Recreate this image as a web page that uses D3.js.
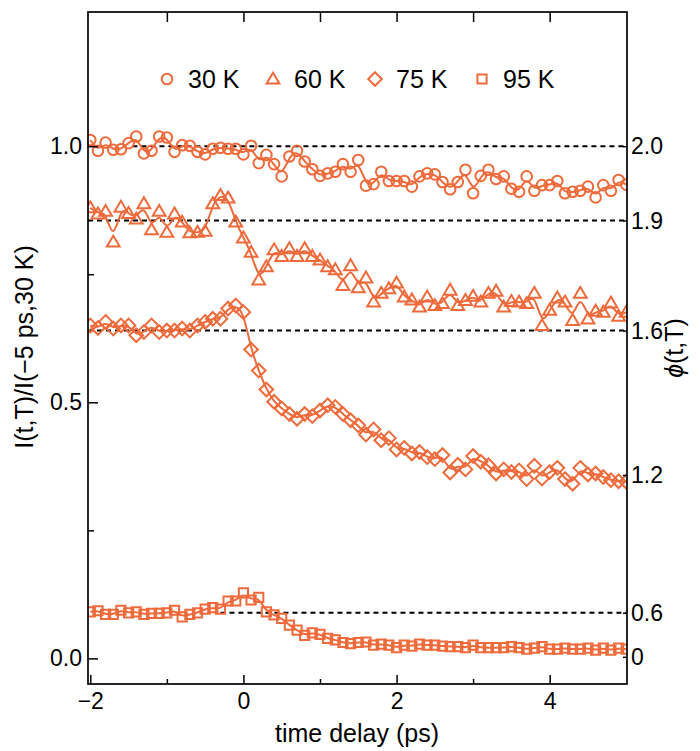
<!DOCTYPE html>
<html>
<head>
<meta charset="utf-8">
<script src="https://cdn.jsdelivr.net/npm/d3@7"></script>
<style>
  body { margin: 0; background: #fff; }
  svg { display: block; }
  text { font-family: "Liberation Sans", Arial, Helvetica, sans-serif; }
</style>
</head>
<body>
<div id="chart"></div>
<script>
'use strict';

// time delay (ps)
var times = [-2.0,-1.9,-1.8,-1.7,-1.6,-1.5,-1.4,-1.3,-1.2,-1.1,-1.0,-0.9,-0.8,-0.7,-0.6,-0.5,-0.4,-0.3,-0.2,-0.1,
  0.0,0.1,0.2,0.3,0.4,0.5,0.6,0.7,0.8,0.9,1.0,1.1,1.2,1.3,1.4,1.5,1.6,1.7,1.8,1.9,
  2.0,2.1,2.2,2.3,2.4,2.5,2.6,2.7,2.8,2.9,3.0,3.1,3.2,3.3,3.4,3.5,3.6,3.7,3.8,3.9,
  4.0,4.1,4.2,4.3,4.4,4.5,4.6,4.7,4.8,4.9,5.0];

var series30K = [1.012,0.991,1.007,0.993,0.994,1.006,1.019,0.986,0.991,1.019,
  1.017,0.989,1.002,1.001,0.989,0.984,0.995,0.997,0.995,0.995,
  0.984,1.001,0.967,0.983,0.965,0.941,0.980,0.991,0.970,0.955,
  0.942,0.947,0.950,0.965,0.950,0.973,0.923,0.926,0.950,0.932,
  0.932,0.932,0.921,0.941,0.947,0.945,0.930,0.916,0.930,0.954,
  0.908,0.942,0.954,0.936,0.941,0.917,0.911,0.941,0.913,0.924,
  0.924,0.932,0.908,0.911,0.913,0.921,0.900,0.924,0.913,0.934,0.925];

var series60K = [0.880,0.868,0.873,0.813,0.881,0.869,0.858,0.888,0.837,0.873,
  0.832,0.868,0.852,0.831,0.832,0.834,0.888,0.904,0.899,0.852,
  0.821,0.793,0.739,0.765,0.798,0.785,0.800,0.785,0.800,0.785,
  0.778,0.765,0.759,0.728,0.767,0.724,0.743,0.696,0.713,0.722,
  0.733,0.706,0.700,0.686,0.706,0.689,0.693,0.719,0.689,0.699,
  0.707,0.696,0.713,0.717,0.686,0.697,0.696,0.693,0.713,0.650,
  0.680,0.704,0.696,0.660,0.713,0.663,0.678,0.676,0.694,0.668,0.676];

var series75K = [0.650,0.645,0.657,0.644,0.650,0.650,0.631,0.637,0.650,0.637,
  0.640,0.640,0.644,0.640,0.650,0.657,0.663,0.663,0.683,0.689,
  0.676,0.603,0.562,0.525,0.501,0.488,0.477,0.468,0.477,0.473,
  0.484,0.494,0.491,0.477,0.465,0.455,0.437,0.447,0.426,0.430,
  0.408,0.411,0.400,0.403,0.393,0.389,0.397,0.363,0.378,0.369,
  0.395,0.384,0.377,0.361,0.369,0.364,0.367,0.350,0.376,0.351,
  0.364,0.372,0.350,0.341,0.372,0.359,0.361,0.354,0.348,0.346,0.345];

var series95K = [0.091,0.093,0.086,0.086,0.094,0.089,0.091,0.086,0.088,0.088,
  0.089,0.094,0.081,0.086,0.089,0.096,0.099,0.096,0.112,0.112,
  0.128,0.114,0.119,0.091,0.085,0.078,0.065,0.055,0.045,0.050,
  0.047,0.039,0.036,0.031,0.029,0.031,0.032,0.026,0.028,0.026,
  0.021,0.026,0.024,0.028,0.026,0.026,0.024,0.023,0.023,0.021,
  0.026,0.021,0.021,0.021,0.021,0.023,0.021,0.018,0.020,0.023,
  0.018,0.018,0.020,0.018,0.018,0.020,0.016,0.020,0.016,0.020,0.018];

var seriesNames = ['30 K', '60 K', '75 K', '95 K'];
var seriesValues = [series30K, series60K, series75K, series95K];
var seriesSymbols = ['circle', 'triangle', 'diamond', 'square'];

// dashed reference levels (left-axis units) and where they start in time
var refLevels = [1.0, 0.855, 0.640, 0.089];
var refStarts = [-1.45, -2.03, -2.03, -0.3];

// right axis: phi(t,T) labels placed at left-axis positions
var phiPositions = [1.0, 0.855, 0.640, 0.358, 0.089, 0.003];
var phiLabels = ['2.0', '1.9', '1.6', '1.2', '0.6', '0'];

var xMajorTicks = [-2, 0, 2, 4];
var xMinorTicks = [-1, 1, 3];
var xTopTicks = [-1, 0, 1, 2, 3, 4];
var yMajorTicks = [0, 0.5, 1.0];
var yMinorTicks = [0.25, 0.75];

var width = 700, height = 751;
var margin = {top: 12, right: 73, bottom: 67, left: 88};
var color = '#ee6a3a';
var tickFont = 23;
var titleFont = 25;

var symbolPaths = {
  circle: 'M5.3,0A5.3,5.3,0,1,1,-5.3,0A5.3,5.3,0,1,1,5.3,0Z',
  triangle: 'M0,-6.3L6.4,4.6L-6.4,4.6Z',
  diamond: 'M0,-6.8L6.8,0L0,6.8L-6.8,0Z',
  square: 'M-4.6,-4.6h9.2v9.2h-9.2Z'
};

var svg = d3.select('#chart').append('svg')
    .attr('width', width)
    .attr('height', height);

var x = d3.scaleLinear()
    .domain([-2.03, 5.01])
    .range([margin.left, width - margin.right]);

var y = d3.scaleLinear()
    .domain([-0.05, 1.262])
    .range([height - margin.bottom, margin.top]);

var plotBottom = height - margin.bottom;
var plotRight = width - margin.right;

svg.append('defs').append('clipPath')
    .attr('id', 'clip')
  .append('rect')
    .attr('x', margin.left)
    .attr('y', margin.top)
    .attr('width', plotRight - margin.left)
    .attr('height', plotBottom - margin.top);

// dashed reference lines
svg.append('g')
  .selectAll('line')
  .data(refLevels)
  .join('line')
    .attr('x1', (d, i) => x(refStarts[i]))
    .attr('x2', x(5.01))
    .attr('y1', d => y(d))
    .attr('y2', d => y(d))
    .attr('stroke', '#000')
    .attr('stroke-width', 2)
    .attr('stroke-dasharray', '5,4');

var line = d3.line()
    .x((d, i) => x(times[i]))
    .y(d => y(d))
    .curve(d3.curveBasis);

var dataLayer = svg.append('g').attr('clip-path', 'url(#clip)');

seriesValues.forEach(function(values, s){
  var g = dataLayer.append('g');
  g.append('path')
    .datum(values)
    .attr('d', line)
    .attr('fill', 'none')
    .attr('stroke', color)
    .attr('stroke-width', 2);
  g.selectAll('path.mark')
    .data(values)
    .join('path')
      .attr('class', 'mark')
      .attr('d', symbolPaths[seriesSymbols[s]])
      .attr('transform', (d, i) => `translate(${x(times[i])},${y(d)})`)
      .attr('fill', 'none')
      .attr('stroke', color)
      .attr('stroke-width', 2);
});

// axes
function styleAxis(g){
  g.select('.domain').remove();
  g.selectAll('line').attr('stroke', '#000').attr('stroke-width', 1.5);
  g.selectAll('text')
    .attr('fill', '#000')
    .style('font-size', tickFont + 'px');
}

svg.append('g')
    .attr('transform', `translate(0,${plotBottom})`)
    .call(d3.axisBottom(x).tickValues(xMajorTicks).tickSize(-9).tickPadding(9).tickFormat(d3.format('d')))
    .call(styleAxis);

svg.append('g')
    .attr('transform', `translate(0,${plotBottom})`)
    .call(d3.axisBottom(x).tickValues(xMinorTicks).tickSize(-5).tickFormat(''))
    .call(styleAxis);

svg.append('g')
    .attr('transform', `translate(0,${margin.top})`)
    .call(d3.axisTop(x).tickValues(xTopTicks).tickSize(-10).tickFormat(''))
    .call(styleAxis);

svg.append('g')
    .attr('transform', `translate(${margin.left},0)`)
    .call(d3.axisLeft(y).tickValues(yMajorTicks).tickSize(-10).tickPadding(6).tickFormat(d3.format('.1f')))
    .call(styleAxis)
    .selectAll('text').attr('dy', '0.3em');

svg.append('g')
    .attr('transform', `translate(${margin.left},0)`)
    .call(d3.axisLeft(y).tickValues(yMinorTicks).tickSize(-6).tickFormat(''))
    .call(styleAxis);

svg.append('g')
    .attr('transform', `translate(${plotRight},0)`)
    .call(d3.axisRight(y).tickValues(phiPositions).tickSize(-4).tickPadding(4)
      .tickFormat((d, i) => phiLabels[i]))
    .call(styleAxis)
    .selectAll('text').attr('dy', '0.33em');

// frame
svg.append('rect')
    .attr('x', margin.left)
    .attr('y', margin.top)
    .attr('width', plotRight - margin.left)
    .attr('height', plotBottom - margin.top)
    .attr('fill', 'none')
    .attr('stroke', '#000')
    .attr('stroke-width', 1.7);

// axis titles
svg.append('text')
    .attr('x', 357)
    .attr('y', 742)
    .attr('text-anchor', 'middle')
    .style('font-size', titleFont + 'px')
    .text('time delay (ps)');

svg.append('text')
    .attr('transform', 'translate(33,347) rotate(-90)')
    .attr('text-anchor', 'middle')
    .style('font-size', titleFont + 'px')
    .text('I(t,T)/I(\u22125 ps,30 K)');

var phiTitle = svg.append('text')
    .attr('transform', 'translate(683,348) rotate(-90)')
    .attr('text-anchor', 'middle')
    .style('font-size', titleFont + 'px');
phiTitle.append('tspan').style('font-style', 'italic').text('\u03d5');
phiTitle.append('tspan').text('(t,T)');

// legend
var legendX = [167, 273, 375, 482];
var legend = svg.append('g')
  .selectAll('g')
  .data(seriesNames)
  .join('g')
    .attr('transform', (d, i) => `translate(${legendX[i]},79)`);

legend.append('path')
    .attr('d', (d, i) => symbolPaths[seriesSymbols[i]])
    .attr('fill', 'none')
    .attr('stroke', color)
    .attr('stroke-width', 2);

legend.append('text')
    .attr('x', 21)
    .attr('y', 9)
    .style('font-size', titleFont + 'px')
    .text(d => d);
</script>
</body>
</html>
